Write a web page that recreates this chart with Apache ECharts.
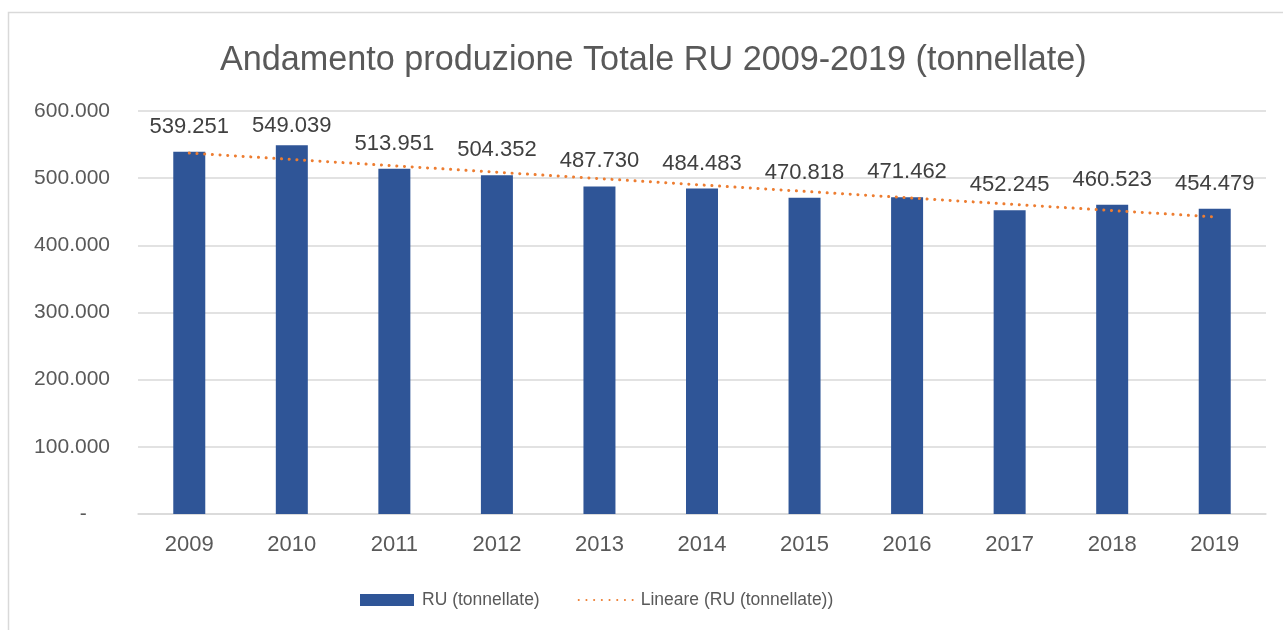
<!DOCTYPE html>
<html>
<head>
<meta charset="utf-8">
<script src="https://cdn.jsdelivr.net/npm/echarts@6/dist/echarts.min.js"></script>
<style>html,body{margin:0;padding:0;background:#fff}#c{width:1283px;height:630px}</style>
</head>
<body>
<div id="c"></div>
<script>
const years = ['2009','2010','2011','2012','2013','2014','2015','2016','2017','2018','2019'];
const ruValues = [539251, 549039, 513951, 504352, 487730, 484483, 470818, 471462, 452245, 460523, 454479];
// linear trendline endpoints (2009 and 2019)
const trendYears = ['2009', '2019'];
const trendValues = [537400, 442300];
const yTicks = [0, 100000, 200000, 300000, 400000, 500000, 600000];

const fmt = v => {
  if (v === 0) return '-    ';
  return String(Math.round(v)).replace(/\B(?=(\d{3})+(?!\d))/g, '.');
};
const FONT = '"Liberation Sans", Arial, sans-serif';

// the 2010 label sits a little closer to its bar in the reference
const barData = ruValues.map((v, i) => i === 1 ? {value: v, label: {distance: 8}} : v);

const chart = echarts.init(document.getElementById('c'), null, {renderer: 'canvas'});
chart.setOption({
  backgroundColor: '#ffffff',
  animation: false,
  textStyle: {fontFamily: FONT},
  graphic: [{
    type: 'rect', silent: true, z: -1,
    shape: {x: 8.5, y: 12.5, width: 1300, height: 640},
    style: {fill: 'none', stroke: '#D9D9D9', lineWidth: 1.5}
  }],
  title: {
    text: 'Andamento produzione Totale RU 2009-2019 (tonnellate)',
    left: 215, top: 39,
    textStyle: {fontFamily: FONT, fontSize: 34.2, fontWeight: 'normal', color: '#595959'}
  },
  legend: {
    bottom: 16, left: 355,
    itemWidth: 54, itemHeight: 12, itemGap: 38,
    textStyle: {fontFamily: FONT, fontSize: 17.5, color: '#595959', padding: [0, 0, 0, 3]},
    data: [
      {name: 'RU (tonnellate)', icon: 'rect'},
      {name: 'Lineare (RU (tonnellate))'}
    ]
  },
  grid: {left: 138, right: 17, top: 111, bottom: 116, containLabel: false},
  xAxis: {
    type: 'category', data: years,
    axisLine: {lineStyle: {color: '#D9D9D9', width: 1.5}},
    axisTick: {show: false},
    axisLabel: {fontFamily: FONT, fontSize: 22, color: '#595959', margin: 20}
  },
  yAxis: {
    type: 'value', min: yTicks[0], max: yTicks[yTicks.length - 1], interval: 100000,
    axisLine: {show: false}, axisTick: {show: false},
    splitLine: {lineStyle: {color: '#D9D9D9', width: 1.5}},
    axisLabel: {fontFamily: FONT, fontSize: 21, color: '#595959', margin: 28, formatter: fmt}
  },
  series: [
    {
      name: 'RU (tonnellate)', type: 'bar', data: barData, barWidth: 32,
      itemStyle: {color: '#2F5597'},
      label: {
        show: true, position: 'top', distance: 14,
        fontFamily: FONT, fontSize: 22, color: '#404040', formatter: p => fmt(p.value)
      },
      z: 2
    },
    {
      name: 'Lineare (RU (tonnellate))', type: 'line',
      data: trendYears.map((y, i) => [y, trendValues[i]]),
      symbol: 'none', silent: true,
      lineStyle: {color: '#ED7D31', width: 3, type: [0.1, 7.6], cap: 'round'},
      itemStyle: {color: 'rgba(0,0,0,0)'},
      z: 3
    }
  ]
});
</script>
</body>
</html>
